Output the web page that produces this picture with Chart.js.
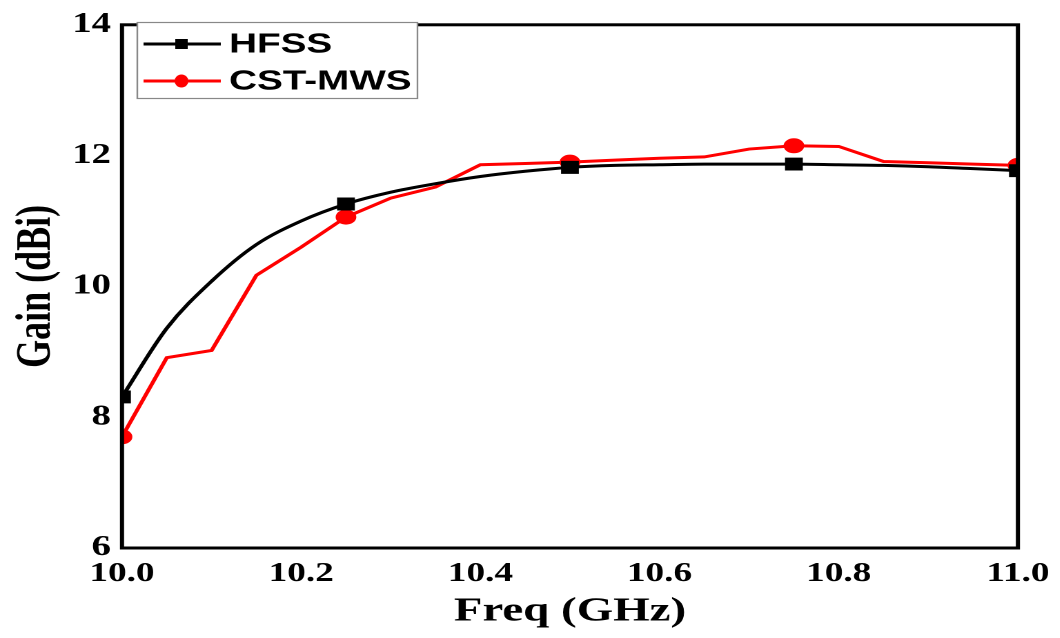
<!DOCTYPE html>
<html>
<head>
<meta charset="utf-8">
<script src="https://cdn.jsdelivr.net/npm/chart.js@4/dist/chart.umd.min.js"></script>
<style>
  html, body { margin: 0; padding: 0; background: #fff; overflow: hidden; }
  #wrap { width: 1060px; height: 638px; }
  /* the source figure is stretched sideways, so draw narrow and widen */
  #gainChart { transform: scaleX(1.38); transform-origin: 0 0; }
</style>
</head>
<body>
<div id="wrap"><canvas id="gainChart" width="768" height="638"></canvas></div>
<script>
var freq = [10.00, 10.05, 10.10, 10.15, 10.20, 10.25, 10.30, 10.35, 10.40, 10.45, 10.50,
            10.55, 10.60, 10.65, 10.70, 10.75, 10.80, 10.85, 10.90, 10.95, 11.00];
var hfss = [8.31, 9.36, 10.08, 10.64, 11.00, 11.26, 11.44, 11.57, 11.68, 11.76, 11.82,
            11.85, 11.86, 11.87, 11.87, 11.87, 11.86, 11.85, 11.83, 11.80, 11.77];
var cst  = [7.70, 8.91, 9.02, 10.17, 10.60, 11.06, 11.35, 11.52, 11.86, 11.88, 11.90,
            11.93, 11.96, 11.98, 12.10, 12.15, 12.14, 11.91, 11.89, 11.87, 11.85];
var seriesNames = ['HFSS', 'CST-MWS'];
var xTicks = [10.0, 10.2, 10.4, 10.6, 10.8, 11.0];
var yTicks = [6, 8, 10, 12, 14];

function pts(ys) {
  return freq.map(function (f, i) { return { x: f, y: ys[i] }; });
}
// markers only every 0.25 GHz
function markEvery(r) {
  return function (c) { return c.dataIndex % 5 === 0 ? r : 0; };
}

var frame = {
  id: 'frame',
  afterDatasetsDraw: function (chart) {
    var a = chart.chartArea, c = chart.ctx;
    c.save();
    c.strokeStyle = '#000';
    c.lineWidth = 3;
    c.strokeRect(a.left, a.top, a.right - a.left, a.bottom - a.top);

    // legend box in top-left corner
    var bx = 99.5, by = 22.5, bw = 203, bh = 76;
    c.fillStyle = '#fff';
    c.fillRect(bx, by, bw, bh);
    c.strokeStyle = '#888';
    c.lineWidth = 1.2;
    c.strokeRect(bx, by, bw, bh);
    var rows = [
      { name: seriesNames[0], color: '#000', y: 44, style: 'rect' },
      { name: seriesNames[1], color: '#f00', y: 81, style: 'circle' }
    ];
    rows.forEach(function (r) {
      c.strokeStyle = r.color;
      c.lineWidth = 3;
      c.beginPath();
      c.moveTo(104, r.y);
      c.lineTo(160, r.y);
      c.stroke();
      c.fillStyle = r.color;
      if (r.style === 'rect') {
        c.fillRect(127, r.y - 5, 9, 10);
      } else {
        c.beginPath();
        c.ellipse(131.5, r.y, 5, 6.5, 0, 0, Math.PI * 2);
        c.fill();
      }
      c.fillStyle = '#000';
      c.font = 'bold 28px "Liberation Sans", Arial, sans-serif';
      c.textBaseline = 'middle';
      c.fillText(r.name, 166, r.y + 1);
    });
    c.restore();
  }
};

new Chart(document.getElementById('gainChart'), {
  type: 'line',
  data: {
    datasets: [{
      label: seriesNames[0],
      data: pts(hfss),
      borderColor: '#000',
      backgroundColor: '#000',
      borderWidth: 3,
      tension: 0.4,
      cubicInterpolationMode: 'monotone',
      pointStyle: 'rect',
      pointRadius: markEvery(7),
      pointHoverRadius: 0
    }, {
      label: seriesNames[1],
      data: pts(cst),
      borderColor: '#f00',
      backgroundColor: '#f00',
      borderWidth: 3,
      tension: 0,
      pointStyle: 'circle',
      pointRadius: markEvery(6),
      pointHoverRadius: 0
    }]
  },
  options: {
    responsive: false,
    animation: false,
    devicePixelRatio: 2,
    layout: { padding: { left: 0, right: 30.4, top: 24, bottom: 0 } },
    scales: {
      x: {
        type: 'linear',
        min: 10, max: 11,
        afterBuildTicks: function (s) { s.ticks = xTicks.map(function (v) { return { value: v }; }); },
        afterFit: function (s) { s.height = 90; s.paddingLeft = 0; s.paddingRight = 0; },
        grid: { display: false, drawTicks: false },
        border: { display: false },
        ticks: {
          color: '#000',
          padding: 10,
          maxRotation: 0,
          font: { family: '"Liberation Serif", "Times New Roman", serif', size: 27, weight: 'bold' },
          callback: function (v) { return v.toFixed(1); }
        },
        title: {
          display: true,
          text: 'Freq (GHz)',
          color: '#000',
          padding: { top: 0, bottom: 6 },
          font: { family: '"Liberation Serif", "Times New Roman", serif', size: 34, weight: 'bold' }
        }
      },
      y: {
        min: 6, max: 14,
        afterBuildTicks: function (s) { s.ticks = yTicks.map(function (v) { return { value: v }; }); },
        afterFit: function (s) { s.width = 88.4; },
        grid: { display: false, drawTicks: false },
        border: { display: false },
        ticks: {
          color: '#000',
          padding: 8,
          font: { family: '"Liberation Serif", "Times New Roman", serif', size: 28, weight: 'bold' }
        },
        title: {
          display: true,
          text: 'Gain (dBi)',
          color: '#000',
          padding: { top: 5, bottom: 0 },
          font: { family: '"Liberation Serif", "Times New Roman", serif', size: 36, weight: 'bold' }
        }
      }
    },
    plugins: {
      legend: { display: false },
      tooltip: { enabled: false }
    }
  },
  plugins: [frame]
});
</script>
</body>
</html>
